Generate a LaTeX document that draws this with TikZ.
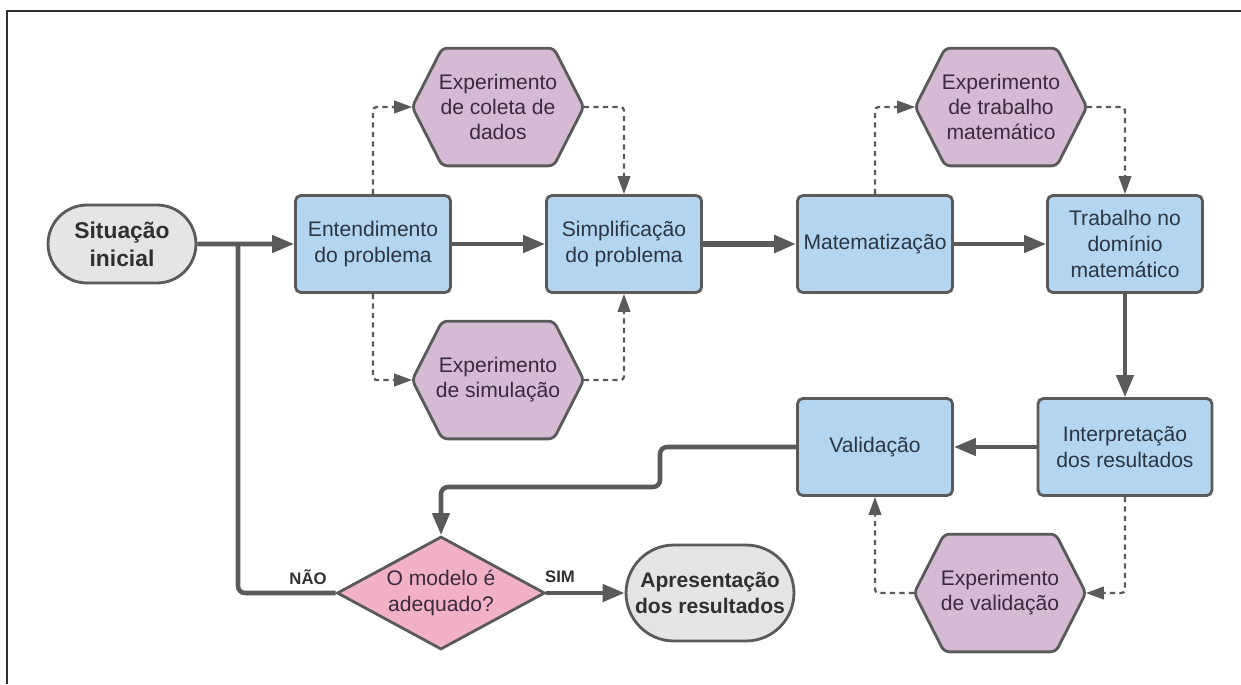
\documentclass[tikz,border=0pt]{standalone}
\usepackage{fontspec}
\setmainfont{Liberation Sans}
\usepackage{tikz}
\usetikzlibrary{arrows.meta,positioning,shapes.geometric,shapes.misc,calc,backgrounds}
\definecolor{lnc}{HTML}{5A5A5A}
\definecolor{boxblue}{HTML}{B4D5EF}
\definecolor{hexpurple}{HTML}{D4BBD3}
\definecolor{diapink}{HTML}{F2B1C7}
\definecolor{termgray}{HTML}{E5E5E5}
\definecolor{txtblue}{HTML}{2A3644}
\definecolor{txtpurple}{HTML}{3A2A3B}
\definecolor{txtdark}{HTML}{303030}
\tikzset{
  box/.style={draw=lnc,line width=1.6pt,fill=boxblue,rounded corners=3pt,align=center,text=txtblue,font=\fontsize{12}{14.7}\selectfont,minimum width=3.1cm,minimum height=1.94cm,inner sep=2pt},
  hexa/.style={align=center,text=txtpurple,font=\fontsize{12}{14.3}\selectfont,minimum width=3.42cm,minimum height=2.34cm,inner sep=0pt},
  hexline/.style={draw=lnc,line width=1.6pt,fill=hexpurple,rounded corners=3pt},
  term/.style={rounded rectangle,draw=lnc,line width=1.6pt,fill=termgray,align=center,text=txtdark,inner sep=2pt},
  dia/.style={diamond,aspect=1.84,draw=lnc,line width=1.6pt,fill=diapink,align=center,text=txtpurple,font=\fontsize{12}{14.7}\selectfont,minimum width=4.16cm,minimum height=2.26cm,inner sep=0pt},
  lbl/.style={font=\fontsize{9.5}{11}\selectfont\bfseries,text=txtdark},
  ln/.style={draw=lnc,line width=2.6pt},
  arr/.style={ln,-{Triangle[length=0.44cm,width=0.34cm]}},
  dsh/.style={draw=lnc,line width=1.3pt,dash pattern=on 3pt off 2.4pt,rounded corners=2pt,-{Triangle[length=0.36cm,width=0.25cm]}},
}
\begin{document}
\begin{tikzpicture}[x=0.02cm,y=-0.02cm]
\useasboundingbox (0,0) rectangle (1241,684);
\draw[txtdark,line width=1pt] (7,684) -- (7,11) -- (1241,11);
% nodes
\node[term,font=\fontsize{13}{15.9}\selectfont\bfseries,minimum width=3.1cm,minimum height=1.56cm] (sit) at (122,244) {Situação\\inicial};
\node[box] (ent) at (373,244) {Entendimento\\do problema};
\node[box] (simp) at (624,244) {Simplificação\\do problema};
\node[box] (mat) at (875,244) {Matematização};
\node[box] (trab) at (1125,244) {Trabalho no\\domínio\\matemático};
\node[box,minimum width=3.48cm] (interp) at (1125,447) {Interpretação\\dos resultados};
\node[box] (valid) at (875,447) {Validação};
\node[dia] (dec) at (441,593) {O modelo é\\adequado?};
\node[term,font=\fontsize{12}{14.7}\selectfont\bfseries,minimum width=3.5cm,minimum height=1.92cm] (apres) at (710,593) {Apresentação\\dos resultados};
\node[hexa] (hcol) at (498,107) {Experimento\\de coleta de\\dados};
\node[hexa] (hsim) at (498,380) {Experimento\\de simulação};
\node[hexa] (htrab) at (1001,107) {Experimento\\de trabalho\\matemático};
\node[hexa] (hval) at (1000,593) {Experimento\\de validação};
\begin{scope}[on background layer]
\foreach \h in {hcol,hsim,htrab,hval}
  \draw[hexline] ([xshift=0.6cm]\h.north west) -- ([xshift=-0.6cm]\h.north east) -- (\h.east) -- ([xshift=-0.6cm]\h.south east) -- ([xshift=0.6cm]\h.south west) -- (\h.west) -- cycle;
\end{scope}
\node[lbl] (nao) at (308,577) {NÃO};
\node[lbl] (sim) at (560,577) {SIM};
% main flow
\coordinate (jn) at (238,244);
\coordinate (b1) at (660,487);
\draw[arr] (sit) -- (ent);
\draw[arr,line width=3.2pt] (simp) -- (mat);
\draw[arr] (ent) -- (simp);
\draw[arr] (mat) -- (trab);
\draw[arr] (trab) -- (interp);
\draw[arr] (interp) -- (valid);
\draw[arr,rounded corners=4pt] (valid.west) -| (b1) -| (dec.north);
\draw[ln,rounded corners=4pt] (dec.west) -| (jn);
\draw[arr] (dec) -- (apres);
% experiments
\draw[dsh] (ent.north) |- (hcol.west);
\draw[dsh] (hcol.east) -| (simp.north);
\draw[dsh] (ent.south) |- (hsim.west);
\draw[dsh] (hsim.east) -| (simp.south);
\draw[dsh] (mat.north) |- (htrab.west);
\draw[dsh] (htrab.east) -| (trab.north);
\draw[dsh] (interp.south) |- (hval.east);
\draw[dsh] (hval.west) -| (valid.south);
\end{tikzpicture}
\end{document}
